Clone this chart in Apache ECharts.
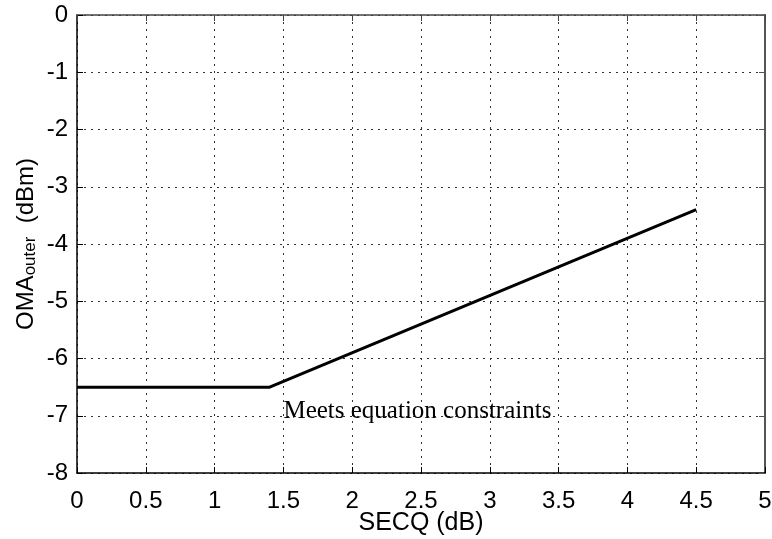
<!DOCTYPE html>
<html>
<head>
<meta charset="utf-8">
<script src="https://cdn.jsdelivr.net/npm/echarts@6/dist/echarts.min.js"></script>
<style>
    html, body { margin: 0; padding: 0; background: #fff; }
    #chart { width: 772px; height: 539px; }
</style>
</head>
<body>
<div id="chart"></div>
<script>
// data
var secq = [0, 1.4, 4.5];
var omaOuter = [-6.5, -6.5, -3.4];
var xTicks = [0, 0.5, 1, 1.5, 2, 2.5, 3, 3.5, 4, 4.5, 5];
var yTicks = [0, -1, -2, -3, -4, -5, -6, -7, -8];
var noteText = 'Meets equation constraints';
var notePos = [1.5, -6.93];

var myChart = echarts.init(document.getElementById('chart'));

var tickFont = { fontFamily: 'Liberation Sans', fontSize: 24, color: '#000' };
var gridLine = { show: true, lineStyle: { color: '#333', type: [2, 5], width: 1 } };

var option = {
    animation: false,
    backgroundColor: '#fff',
    grid: { left: 77, right: 7, top: 15, bottom: 66, outerBoundsMode: 'none', containLabel: false },
    xAxis: [
        {
            type: 'value', min: 0, max: 5, interval: 0.5,
            name: 'SECQ (dB)', nameLocation: 'middle', nameGap: 38, nameMoveOverlap: false,
            nameTextStyle: { fontFamily: 'Liberation Sans', fontSize: 25, color: '#000' },
            axisLine: { show: true, onZero: false, lineStyle: { color: '#000', width: 1.5 } },
            axisTick: { show: true, inside: true, length: 6, lineStyle: { color: '#000' } },
            axisLabel: Object.assign({ margin: 16 }, tickFont),
            splitLine: gridLine
        },
        {
            type: 'value', min: 0, max: 5, interval: 0.5, position: 'top',
            axisLine: { show: true, onZero: false, lineStyle: { color: '#444', width: 1.5 } },
            axisTick: { show: true, inside: true, length: 6, lineStyle: { color: '#444' } },
            axisLabel: { show: false },
            splitLine: { show: false }
        }
    ],
    yAxis: [
        {
            type: 'value', min: -8, max: 0, interval: 1,
            name: '{n|OMA}{s|outer}{n|  (dBm)}', nameLocation: 'middle', nameGap: 38, nameMoveOverlap: false,
            nameTextStyle: {
                rich: {
                    n: { fontFamily: 'Liberation Sans', fontSize: 24, color: '#000' },
                    s: { fontFamily: 'Liberation Sans', fontSize: 17, color: '#000', verticalAlign: 'bottom', padding: [9, 0, 0, 0] }
                }
            },
            axisLine: { show: true, onZero: false, lineStyle: { color: '#000', width: 1.5 } },
            axisTick: { show: true, inside: true, length: 6, lineStyle: { color: '#000' } },
            axisLabel: Object.assign({ margin: 9 }, tickFont),
            splitLine: gridLine
        },
        {
            type: 'value', min: -8, max: 0, interval: 1, position: 'right',
            axisLine: { show: true, onZero: false, lineStyle: { color: '#555', width: 2 } },
            axisTick: { show: true, inside: true, length: 6, lineStyle: { color: '#555' } },
            axisLabel: { show: false },
            splitLine: { show: false }
        }
    ],
    series: [
        {
            type: 'line',
            data: secq.map(function (x, i) { return [x, omaOuter[i]]; }),
            showSymbol: false,
            lineStyle: { color: '#000', width: 3 },
            markPoint: {
                symbol: 'circle', symbolSize: 0,
                data: [{
                    coord: notePos,
                    label: {
                        show: true, formatter: noteText, position: 'right', distance: 0,
                        fontFamily: 'Liberation Serif', fontSize: 25, color: '#000'
                    }
                }]
            }
        }
    ]
};

option && myChart.setOption(option);
</script>
</body>
</html>
